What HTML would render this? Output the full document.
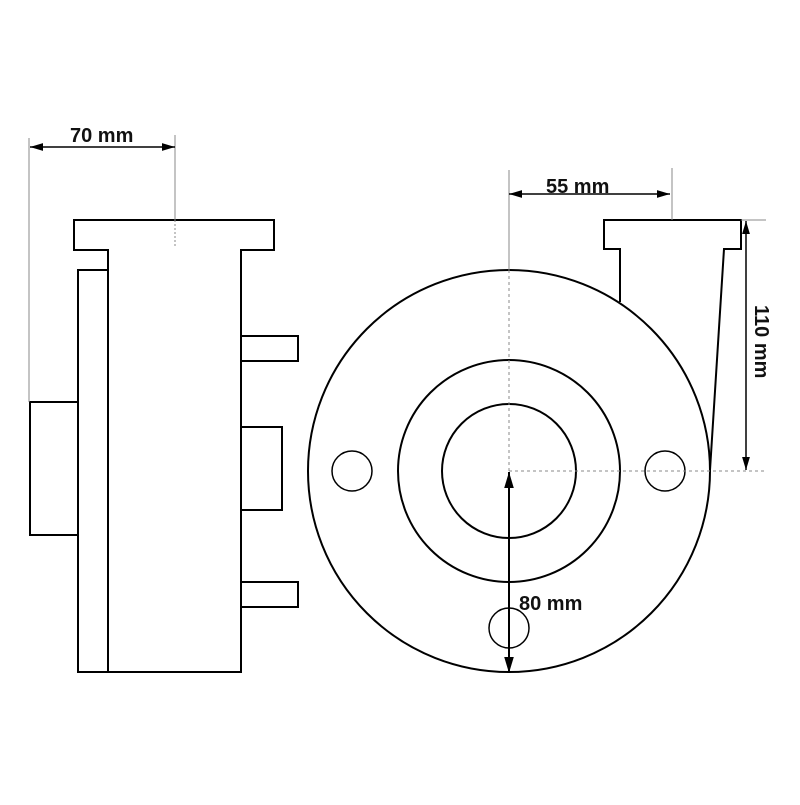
<!DOCTYPE html>
<html><head><style>html,body{margin:0;padding:0;background:#fff}</style></head>
<body>
<svg width="800" height="800" viewBox="0 0 800 800" xmlns="http://www.w3.org/2000/svg">
<defs>
<marker id="a" viewBox="0 0 10 10" refX="10" refY="5" markerWidth="13" markerHeight="13" markerUnits="userSpaceOnUse" orient="auto-start-reverse"><path d="M0,2 L10,5 L0,8 Z" fill="#000"/></marker>
<marker id="b" viewBox="0 0 10 10" refX="10" refY="5" markerWidth="16" markerHeight="16" markerUnits="userSpaceOnUse" orient="auto-start-reverse"><path d="M0,2 L10,5 L0,8 Z" fill="#000"/></marker>
</defs>
<g fill="none" stroke="#000" stroke-width="2">
<path d="M74,220 H274 V250 H241 V672 H108 V250 H74 Z" fill="#fff"/>
<rect x="78" y="270" width="30" height="402"/>
<rect x="30" y="402" width="48" height="133"/>
<rect x="241" y="336" width="57" height="25"/>
<rect x="241" y="427" width="41" height="83"/>
<rect x="241" y="582" width="57" height="25"/>
<circle cx="509" cy="471" r="201"/>
<circle cx="509" cy="471" r="111"/>
<circle cx="509" cy="471" r="67"/>
<circle cx="352" cy="471" r="20" stroke-width="1.5"/>
<circle cx="665" cy="471" r="20" stroke-width="1.5"/>
<circle cx="509" cy="628" r="20" stroke-width="1.5"/>
<path d="M620,302 V249 H604 V220 H741 V249 H724 L710,470"/>
</g>
<g stroke="#888" stroke-width="1" fill="none">
<line x1="29" y1="138" x2="29" y2="402"/>
<line x1="175" y1="135" x2="175" y2="220"/>
<line x1="175" y1="220" x2="175" y2="246" stroke-dasharray="2,2"/>
<line x1="509" y1="170" x2="509" y2="270"/>
<line x1="509" y1="270" x2="509" y2="471" stroke-dasharray="3,3"/>
<line x1="672" y1="168" x2="672" y2="220"/>
<line x1="741" y1="220" x2="766" y2="220"/>
<line x1="509" y1="471" x2="766" y2="471" stroke-dasharray="3,3"/>
</g>
<g stroke="#000" stroke-width="1.5">
<line x1="30" y1="147" x2="175" y2="147" marker-start="url(#a)" marker-end="url(#a)"/>
<line x1="509" y1="194" x2="670" y2="194" marker-start="url(#a)" marker-end="url(#a)"/>
<line x1="746" y1="221" x2="746" y2="470" marker-start="url(#a)" marker-end="url(#a)"/>
<line x1="509" y1="472" x2="509" y2="673" stroke-width="2" marker-start="url(#b)" marker-end="url(#b)"/>
</g>
<g font-family="Liberation Sans, sans-serif" font-weight="bold" font-size="20" fill="#111">
<text x="70" y="142">70 mm</text>
<text x="546" y="193">55 mm</text>
<text x="519" y="610">80 mm</text>
<text x="0" y="0" transform="translate(755,305) rotate(90)">110 mm</text>
</g>
</svg>
</body></html>
